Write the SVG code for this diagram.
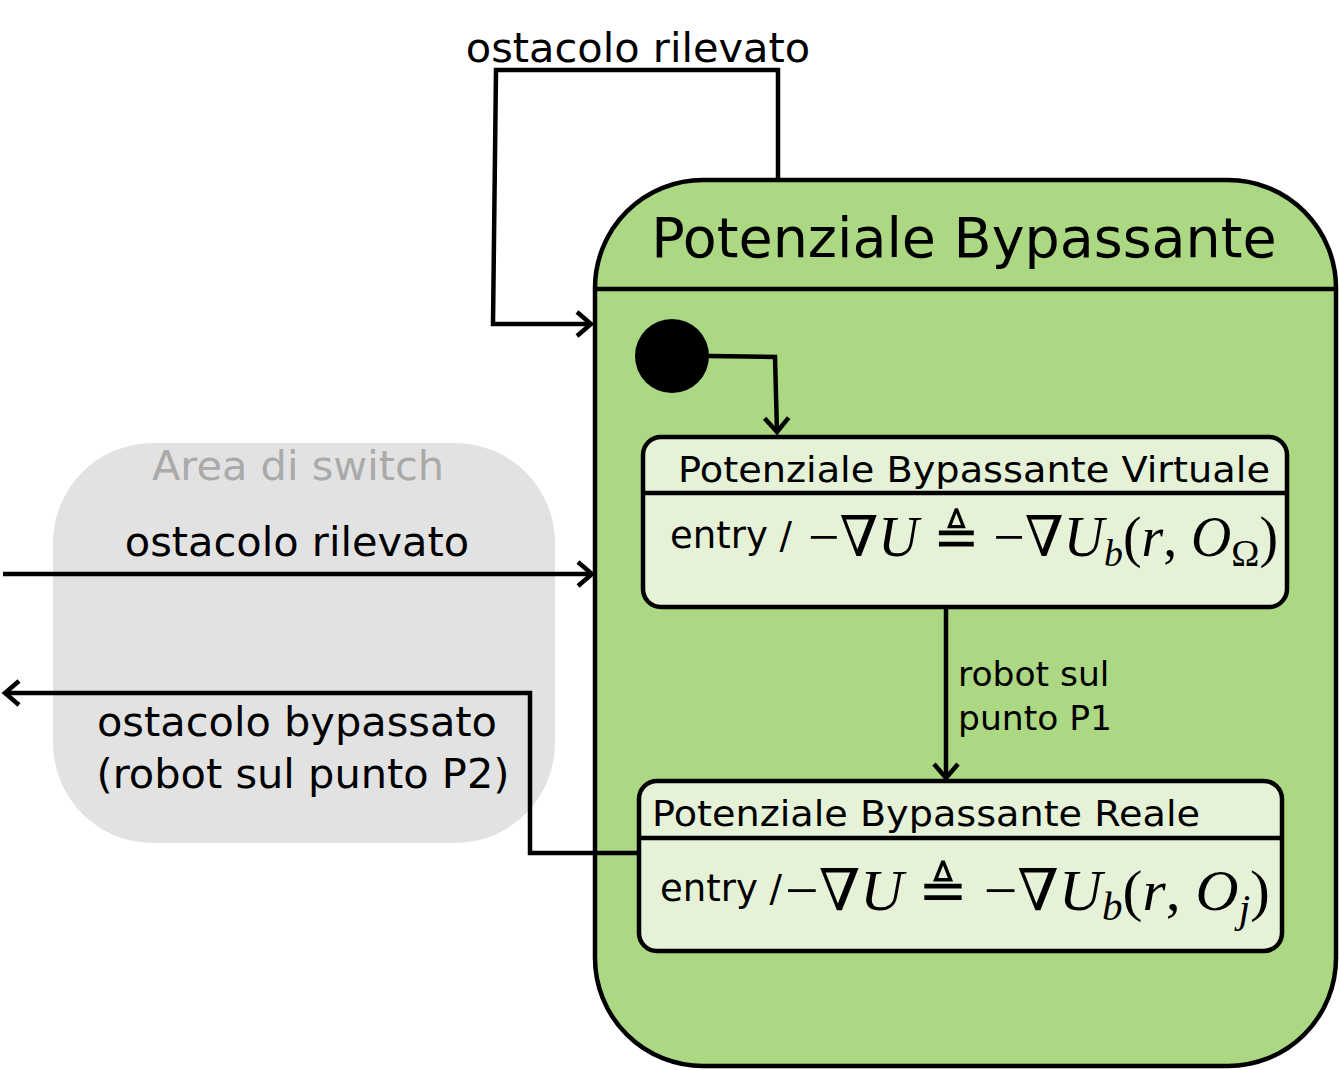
<svg xmlns="http://www.w3.org/2000/svg" width="1339" height="1070" viewBox="0 0 1339 1070">
<defs>
<marker id="v" viewBox="-20 -14 24 28" markerWidth="24" markerHeight="28" refX="0" refY="0" orient="auto" markerUnits="userSpaceOnUse">
<path d="M-14,-12 L0,0 L-14,12" fill="none" stroke="#000" stroke-width="4.5"/>
</marker>
</defs>
<style>
.t{font-family:"DejaVu Sans",sans-serif;fill:#000}
.m{font-family:"Liberation Serif","DejaVu Serif",serif;fill:#000}
.i{font-style:italic}
.ln{fill:none;stroke:#000;stroke-width:4.5;stroke-linejoin:miter}
.box{stroke:#000;stroke-width:4.5}
</style>
<rect x="0" y="0" width="1339" height="1070" fill="#fff"/>
<g id="area">
<rect x="53" y="443" width="502" height="400" rx="100" fill="#e2e2e2"/>
<text class="t" x="298" y="480" font-size="41.5" text-anchor="middle" style="fill:#aaaaaa">Area di switch</text>
</g>
<g id="main">
<rect class="box" x="595" y="180" width="741" height="886" rx="108" fill="#acd783"/>
<line x1="595" y1="289" x2="1336" y2="289" stroke="#000" stroke-width="4.5"/>
<text class="t" x="964" y="257" font-size="55.5" text-anchor="middle">Potenziale Bypassante</text>
</g>
<g id="init">
<circle cx="672" cy="356" r="37" fill="#000"/>
</g>
<g id="virtuale">
<rect class="box" x="643" y="437" width="644" height="170" rx="18" fill="#e5f2d8"/>
<line x1="643" y1="493" x2="1287" y2="493" stroke="#000" stroke-width="4.5"/>
<text class="t" x="678" y="482" font-size="36" textLength="592" lengthAdjust="spacingAndGlyphs">Potenziale Bypassante Virtuale</text>
<text class="t" x="670" y="548" font-size="37">entry /</text>
<text class="m" x="808" y="556" font-size="56" textLength="470" lengthAdjust="spacingAndGlyphs">−∇<tspan class="i">U</tspan> ≜ −∇<tspan class="i">U</tspan><tspan class="i" font-size="38" dy="10">b</tspan><tspan dy="-10">(</tspan><tspan class="i">r</tspan>, <tspan class="i">O</tspan><tspan font-size="38" dy="10">Ω</tspan><tspan dy="-10">)</tspan></text>
</g>
<g id="reale">
<rect class="box" x="639" y="781" width="643" height="170" rx="18" fill="#e5f2d8"/>
<line x1="639" y1="838" x2="1282" y2="838" stroke="#000" stroke-width="4.5"/>
<text class="t" x="652" y="826" font-size="36" textLength="548" lengthAdjust="spacingAndGlyphs">Potenziale Bypassante Reale</text>
<text class="t" x="660" y="901" font-size="37">entry /</text>
<text class="m" x="785" y="910" font-size="58" textLength="485" lengthAdjust="spacingAndGlyphs">−∇<tspan class="i">U</tspan> ≜ −∇<tspan class="i">U</tspan><tspan class="i" font-size="40" dy="10">b</tspan><tspan dy="-10">(</tspan><tspan class="i">r</tspan>, <tspan class="i">O</tspan><tspan class="i" font-size="40" dy="12">j</tspan><tspan dy="-12">)</tspan></text>
</g>
<g id="connectors">
<path class="ln" d="M709,356 L775,357 L777,432" marker-end="url(#v)"/>
<path class="ln" d="M946,607 L946,778" marker-end="url(#v)"/>
<path class="ln" d="M778,178 L778,70 L496,70 L493,324 L591,324" marker-end="url(#v)"/>
<path class="ln" d="M3,574 L592,574" marker-end="url(#v)"/>
<path class="ln" d="M637,853 L530,853 L530,693 L5,693" marker-end="url(#v)"/>
<text class="t" x="638" y="62" font-size="41.5" text-anchor="middle">ostacolo rilevato</text>
<text class="t" x="297" y="556" font-size="41.5" text-anchor="middle">ostacolo rilevato</text>
<text class="t" x="297" y="736" font-size="41.5" text-anchor="middle">ostacolo bypassato</text>
<text class="t" x="303" y="788" font-size="41.5" text-anchor="middle">(robot sul punto P2)</text>
<text class="t" x="958" y="686" font-size="34.5">robot sul</text>
<text class="t" x="958" y="730" font-size="34.5">punto P1</text>
</g>
</svg>
